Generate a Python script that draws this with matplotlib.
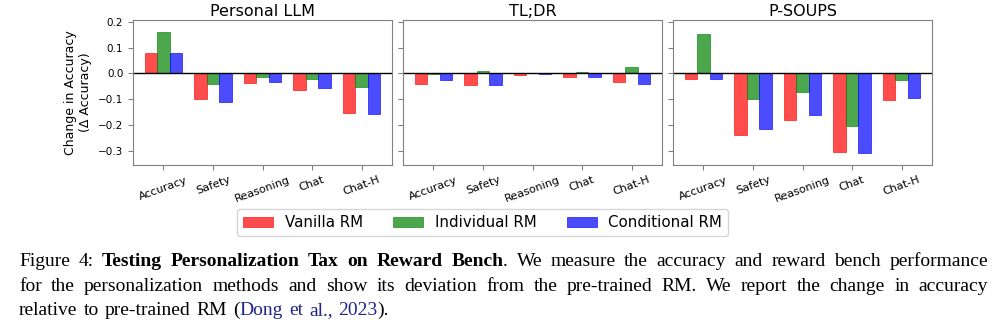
import matplotlib
matplotlib.use("Agg")
import numpy as np
import matplotlib.pyplot as plt

# data
categories = ["Accuracy", "Safety", "Reasoning", "Chat", "Chat-H"]
panels = ["Personal LLM", "TL;DR", "P-SOUPS"]
methods = ["Vanilla RM", "Individual RM", "Conditional RM"]

personal_vanilla = [0.081, -0.101, -0.036, -0.065, -0.152]
personal_individual = [0.159, -0.041, -0.012, -0.022, -0.052]
personal_conditional = [0.080, -0.110, -0.035, -0.057, -0.156]

tldr_vanilla = [-0.040, -0.044, -0.006, -0.013, -0.034]
tldr_individual = [-0.001, 0.010, 0.001, 0.006, 0.023]
tldr_conditional = [-0.026, -0.044, -0.004, -0.014, -0.040]

psoups_vanilla = [-0.021, -0.240, -0.179, -0.306, -0.103]
psoups_individual = [0.154, -0.099, -0.074, -0.203, -0.025]
psoups_conditional = [-0.021, -0.215, -0.161, -0.307, -0.097]

panel_data = [
    (personal_vanilla, personal_individual, personal_conditional),
    (tldr_vanilla, tldr_individual, tldr_conditional),
    (psoups_vanilla, psoups_individual, psoups_conditional),
]
colors = ["red", "green", "blue"]

fig = plt.figure(figsize=(10, 3.28), dpi=100)
W, H = 1000, 328

lefts = [133, 403, 673]
axes = []
for left in lefts:
    sharey = axes[0] if axes else None
    ax = fig.add_axes([left / W, 1 - 165 / H, 259 / W, 145 / H], sharey=sharey)
    axes.append(ax)

x = np.arange(len(categories))
bw = 0.25
for ax, name, series in zip(axes, panels, panel_data):
    for k, (vals, c, lab) in enumerate(zip(series, colors, methods)):
        ax.bar(x + (k - 1) * bw, vals, bw, color=c, alpha=0.7, edgecolor=c, linewidth=0.6, label=lab)
    ax.axhline(0, color="black", linewidth=1)
    ax.set_title(name, fontsize=11.5, pad=3)
    ax.set_xticks(x)
    ax.set_xticklabels(categories, rotation=20, fontsize=8)
    ax.tick_params(axis="y", labelsize=7.5, color="#808080")
    ax.tick_params(axis="x", color="#808080")
    for s in ax.spines.values():
        s.set_color("#808080")
    if ax is not axes[0]:
        ax.tick_params(labelleft=False)

axes[0].set_ylim(-0.355, 0.207)
axes[0].set_yticks([-0.3, -0.2, -0.1, 0.0, 0.1, 0.2])
axes[0].set_ylabel("Change in Accuracy\n(Δ Accuracy)", fontsize=9)

handles, labels = axes[0].get_legend_handles_labels()
fig.legend(handles, labels, loc="center", bbox_to_anchor=(482.5 / W, 1 - 222.5 / H),
           ncol=3, fontsize=10.8, frameon=True)

# caption below the chart, justified like the paper
renderer = fig.canvas.get_renderer()
cap_size = 14
serif = "Liberation Serif"
navy = "#22228a"


def caption_line(words, baseline, x0, x1, justify, gap=None):
    placed = []
    widths = []
    for word in words:
        arts = []
        w = 0
        for txt, bold, col in word:
            t = fig.text(0, 1 - baseline / H, txt, fontsize=cap_size, family=serif,
                         fontweight="bold" if bold else "normal", color=col, va="baseline")
            ext = t.get_window_extent(renderer)
            arts.append((t, ext.width))
            w += ext.width
        placed.append(arts)
        widths.append(w)
    if justify and len(words) > 1:
        gap = (x1 - x0 - sum(widths)) / (len(words) - 1)
    elif gap is None:
        gap = 0.25 * cap_size * 100 / 72
    pos = x0
    for arts, w in zip(placed, widths):
        p = pos
        for t, tw in arts:
            t.set_x(p / W)
            p += tw
        pos += w + gap


def plain(s, bold=False, col="black"):
    return [[(w, bold, col)] for w in s.split()]


line1 = plain("Figure 4:") + plain("Testing Personalization Tax on Reward", True) + \
    [[("Bench", True, "black"), (".", False, "black")]] + \
    plain("We measure the accuracy and reward bench performance")
line2 = plain("for the personalization methods and show its deviation from the pre-trained RM. "
              "We report the change in accuracy")
line3 = plain("relative to pre-trained RM") + [[("(", False, "black"), ("Dong", False, navy)]] + \
    plain("et al.,", col=navy) + [[("2023", False, navy), (").", False, "black")]]

caption_line(line1, 266, 19, 988, True)
caption_line(line2, 291, 19, 988, True)
caption_line(line3, 315, 19, 988, False, gap=6)

fig.savefig("out.png", dpi=100)
